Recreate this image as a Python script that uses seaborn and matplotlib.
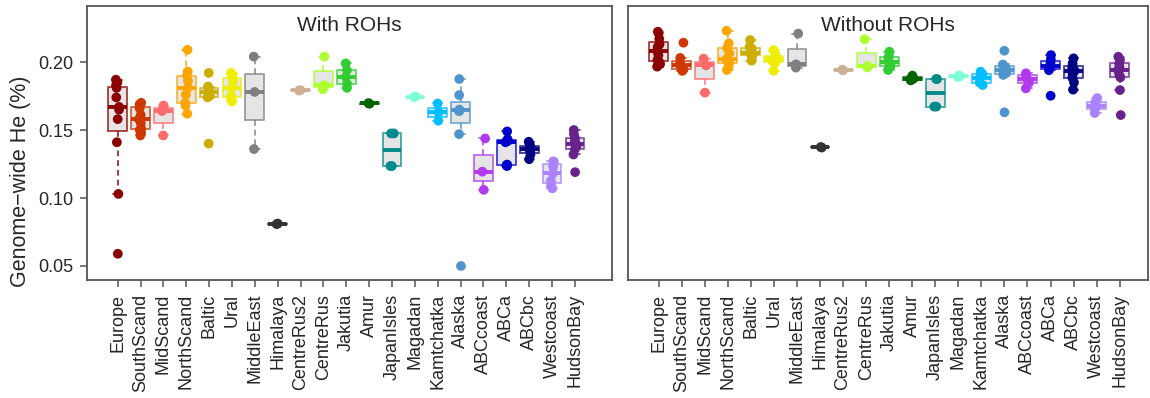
import numpy as np
import pandas as pd
import matplotlib
matplotlib.use("Agg")
import matplotlib.pyplot as plt
import seaborn as sns

np.random.seed(3)

populations = ["Europe", "SouthScand", "MidScand", "NorthScand", "Baltic", "Ural",
               "MiddleEast", "Himalaya", "CentreRus2", "CentreRus", "Jakutia", "Amur",
               "JapanIsles", "Magadan", "Kamtchatka", "Alaska", "ABCcoast", "ABCa",
               "ABCbc", "Westcoast", "HudsonBay"]

colors = ["#8B0000", "#CD3700", "#FF6A6A", "#FFA500", "#CDAD00", "#EEEE00",
          "#7F7F7F", "#333333", "#CDAF95", "#ADFF2F", "#32CD32", "#006400",
          "#008B8B", "#7FFFD4", "#00BFFF", "#4F94CD", "#B23AEE", "#0000CD",
          "#000080", "#AB82FF", "#68228B"]

# Genome-wide heterozygosity (%) with ROHs
he_with_rohs = [
    [0.059, 0.103, 0.141, 0.158, 0.165, 0.167, 0.174, 0.181, 0.183, 0.185, 0.187],
    [0.146, 0.148, 0.150, 0.151, 0.155, 0.158, 0.161, 0.166, 0.168, 0.169, 0.170],
    [0.146, 0.164, 0.168],
    [0.162, 0.168, 0.170, 0.176, 0.181, 0.186, 0.190, 0.193, 0.209],
    [0.140, 0.174, 0.175, 0.178, 0.180, 0.182, 0.192],
    [0.171, 0.173, 0.175, 0.181, 0.186, 0.190, 0.192],
    [0.136, 0.178, 0.204],
    [0.0808, 0.0812],
    [0.1790, 0.1793],
    [0.180, 0.183, 0.204],
    [0.181, 0.184, 0.189, 0.194, 0.199],
    [0.1693, 0.1698],
    [0.1235, 0.1235, 0.1475, 0.1475],
    [0.1742, 0.1747],
    [0.1568, 0.1630, 0.1695],
    [0.050, 0.147, 0.1638, 0.1645, 0.1650, 0.1757, 0.1875],
    [0.106, 0.1194, 0.1438],
    [0.1235, 0.124, 0.1246, 0.141, 0.142, 0.1432, 0.149],
    [0.1285, 0.132, 0.1346, 0.1358, 0.137, 0.1394, 0.1414],
    [0.1071, 0.109, 0.1126, 0.1181, 0.123, 0.1266, 0.127],
    [0.119, 0.132, 0.1358, 0.138, 0.1397, 0.142, 0.1444, 0.147, 0.150],
]

# Genome-wide heterozygosity (%) without ROHs
he_without_rohs = [
    [0.1966, 0.1985, 0.2000, 0.2014, 0.2050, 0.2083, 0.2110, 0.2130, 0.2170, 0.2211, 0.2223],
    [0.1935, 0.1945, 0.1953, 0.1978, 0.1990, 0.2030, 0.2142],
    [0.1775, 0.1975, 0.2025],
    [0.1941, 0.1966, 0.1995, 0.2010, 0.2020, 0.2064, 0.2105, 0.2137, 0.2230],
    [0.2010, 0.2040, 0.2062, 0.2064, 0.2100, 0.2110, 0.2162],
    [0.1936, 0.1995, 0.2005, 0.2020, 0.2035, 0.2053, 0.2088],
    [0.1959, 0.1983, 0.2209],
    [0.1371, 0.1375],
    [0.1939, 0.1943],
    [0.1960, 0.1971, 0.2167],
    [0.1941, 0.1965, 0.1977, 0.2002, 0.2025, 0.2043, 0.2076],
    [0.1865, 0.1877, 0.1900],
    [0.1672, 0.1672, 0.1875, 0.1875],
    [0.1890, 0.1895, 0.1900],
    [0.1831, 0.1848, 0.1880, 0.1912, 0.1929],
    [0.1630, 0.1905, 0.1919, 0.1941, 0.1960, 0.1982, 0.2083],
    [0.1806, 0.1848, 0.1873, 0.1904, 0.1917],
    [0.1752, 0.1940, 0.1952, 0.1970, 0.1995, 0.2019, 0.2051],
    [0.1797, 0.1850, 0.1885, 0.1910, 0.1936, 0.1955, 0.1973, 0.1990, 0.2027],
    [0.1625, 0.1652, 0.1676, 0.1703, 0.1735],
    [0.1610, 0.1794, 0.1887, 0.1905, 0.1940, 0.1965, 0.1990, 0.2015, 0.2039],
]

panel_titles = ["With ROHs", "Without ROHs"]
y_ticks = [0.05, 0.10, 0.15, 0.20]
y_tick_labels = ["0.05", "0.10", "0.15", "0.20"]

sns.set_style("white")
plt.rcParams["font.family"] = ["Liberation Sans", "DejaVu Sans"]

W, H = 1150, 398
fig = plt.figure(figsize=(W / 100, H / 100), dpi=100)
frame_col = "#555555"

axes_px = [(87, 6, 612, 280), (627.7, 6, 1148, 280)]
xlims = [(-1.34, 21.62), (-1.345, 21.23)]

for k, (vals, title) in enumerate(zip([he_with_rohs, he_without_rohs], panel_titles)):
    x0, y0, x1, y1 = axes_px[k]
    ax = fig.add_axes([x0 / W, 1 - y1 / H, (x1 - x0) / W, (y1 - y0) / H])
    df = pd.DataFrame({
        "pop": [p for p, v in zip(populations, vals) for _ in v],
        "he": [x for v in vals for x in v],
    })
    # grey box fill
    sns.boxplot(data=df, x="pop", y="he", order=populations, color="#E5E5E5",
                saturation=1, linewidth=0, showfliers=False, showcaps=False,
                width=0.82, ax=ax)
    # coloured box outlines, dashed whiskers, thick medians
    sns.boxplot(data=df, x="pop", y="he", order=populations, hue="pop",
                hue_order=populations, palette=colors, saturation=1, fill=False,
                showfliers=False, width=0.82, linewidth=1.4,
                boxprops=dict(alpha=0.7),
                whiskerprops=dict(linestyle=(0, (3, 2)), alpha=0.75),
                capprops=dict(alpha=0.75),
                medianprops=dict(linewidth=2.8),
                legend=False, ax=ax)
    sns.stripplot(data=df, x="pop", y="he", order=populations, hue="pop",
                  hue_order=populations, palette=colors, size=7, jitter=0.08,
                  linewidth=0, legend=False, ax=ax, zorder=4)

    ax.set_xlim(*xlims[k])
    ax.set_ylim(0.0397, 0.2412)
    ax.set_xlabel("")
    ax.set_ylabel("")
    ax.set_xticks(range(len(populations)))
    ax.set_xticklabels(populations, rotation=90, fontsize=13)
    ax.set_yticks(y_ticks)
    ax.set_yticklabels(y_tick_labels, fontsize=13)
    ax.tick_params(axis="both", direction="out", length=5, width=1.1,
                   color=frame_col, pad=5, bottom=True)
    if k == 1:
        ax.tick_params(axis="y", left=False, labelleft=False)
    else:
        ax.tick_params(axis="y", left=True)
    for s in ax.spines.values():
        s.set_visible(True)
        s.set_color(frame_col)
        s.set_linewidth(1.3)
    ax.text(0.5, 0.93, title, transform=ax.transAxes, ha="center", va="center",
            fontsize=15)

fig.text(21 / W, 1 - 181 / H, "Genome\u2212wide He (%)", rotation=90,
         ha="center", va="center", fontsize=15.5)

fig.savefig("out.png", dpi=100)
